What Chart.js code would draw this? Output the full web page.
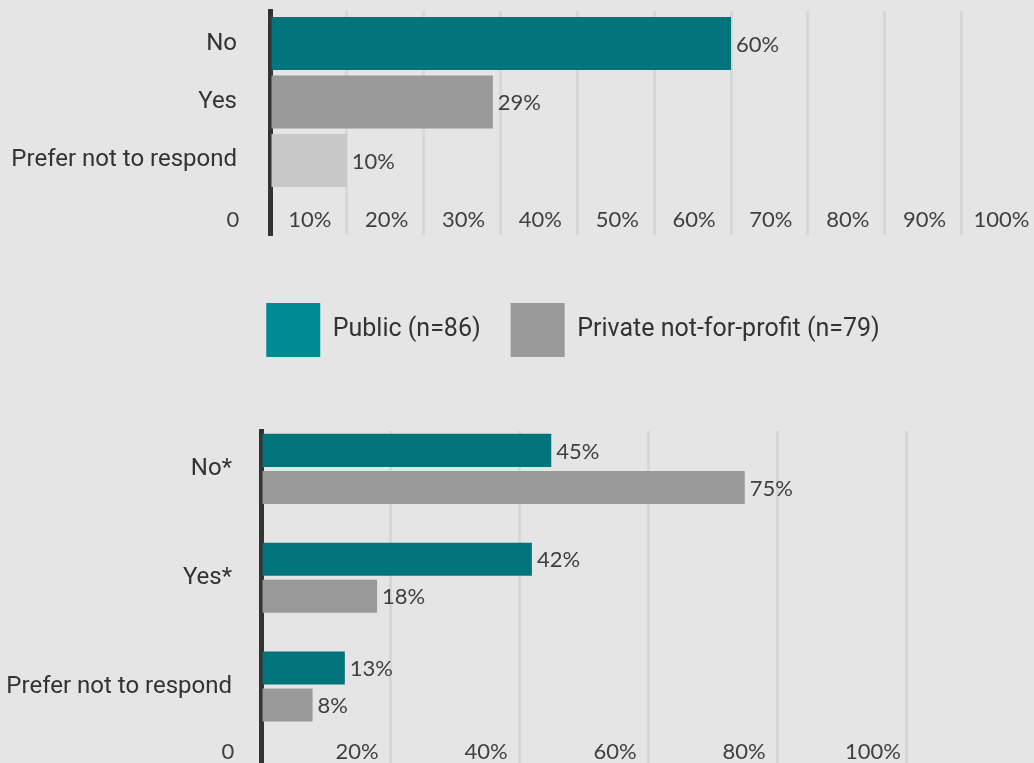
<!DOCTYPE html>
<html>
<head>
<meta charset="utf-8">
<title>Survey responses</title>
<script src="https://cdn.jsdelivr.net/npm/chart.js@4.4.0/dist/chart.umd.min.js"></script>
<style>
    html, body {
        margin: 0;
        padding: 0;
        width: 1034px;
        height: 763px;
        overflow: hidden;
        background: #e5e5e5;
    }
    canvas {
        position: absolute;
        left: 0;
    }
    #topChart { top: 0; }
    #bottomChart { top: 380px; }
</style>
</head>
<body>
<canvas id="topChart" width="1146" height="367"></canvas>
<canvas id="bottomChart" width="1040" height="383"></canvas>
<script>
// ===================================
// Data
// ===================================
const topCategories = ['No', 'Yes', 'Prefer not to respond'];
const topValues = [60, 29, 10];

const bottomCategories = ['No*', 'Yes*', 'Prefer not to respond'];
const publicValues = [45, 42, 13];
const privateValues = [75, 18, 8];

const groupNames = ['Public (n=86)', 'Private not-for-profit (n=79)'];

// ===================================
// Styles
// ===================================
const TEAL = '#02747b';
const GREY = '#999999';
const LIGHT_GREY = '#c8c8c8';
const LEGEND_COLORS = ['#008b93', '#999999'];
const GRID = '#d7d7d7';
const AXIS = '#333333';
const TEXT = '#404040';

Chart.defaults.font.family = 'Roboto';
Chart.defaults.color = TEXT;

// Draw "xx%" next to the end of every bar
const valueLabels = {
    id: 'valueLabels',
    afterDatasetsDraw(chart) {
        const ctx = chart.ctx;
        ctx.save();
        ctx.font = '22px Lato';
        ctx.fillStyle = TEXT;
        ctx.textBaseline = 'middle';
        ctx.textAlign = 'left';
        chart.data.datasets.forEach((ds, i) => {
            chart.getDatasetMeta(i).data.forEach((bar, j) => {
                ctx.fillText(ds.data[j] + '%', bar.x + 5, bar.y + 1);
            });
        });
        ctx.restore();
    }
};

// y axis with fixed width, one tick per category
function categoryAxis(categories, width, min, max, pad) {
    return {
        type: 'linear',
        reverse: true,
        offset: false,
        bounds: 'data',
        min: min,
        max: max,
        z: 1,
        grid: { display: false, drawTicks: false },
        border: { display: true, color: AXIS, width: 5 },
        ticks: {
            padding: pad,
            autoSkip: false,
            color: '#333333',
            font: { family: 'Roboto', size: 24 },
            callback: v => categories[v] || ''
        },
        afterBuildTicks: s => {
            s.ticks = categories.map((c, i) => ({ value: i }));
        },
        afterFit: s => {
            s.width = width;
            s.paddingTop = 0;
            s.paddingBottom = 0;
        }
    };
}

// x axis: labels sit between gridlines, inside the plot area
function percentAxis(max, step, offset, pad, height) {
    return {
        type: 'linear',
        bounds: 'data',
        min: 0,
        max: max,
        grid: { color: GRID, lineWidth: 3, drawTicks: false },
        border: { display: false },
        ticks: {
            stepSize: step,
            includeBounds: false,
            mirror: true,
            labelOffset: offset,
            padding: pad,
            color: TEXT,
            font: { family: 'Lato', size: 22 },
            callback: v => v === 0 ? '0' : (v > 100 ? '' : v + '%')
        },
        afterFit: s => {
            s.height = height;
            s.paddingLeft = 0;
            s.paddingRight = 0;
        }
    };
}

// ===================================
// Top chart (overall) + legend
// ===================================
new Chart(document.getElementById('topChart'), {
    type: 'bar',
    data: {
        labels: topCategories.map((c, i) => i),
        datasets: [{
            label: 'All',
            data: topValues,
            backgroundColor: [TEAL, GREY, LIGHT_GREY],
            categoryPercentage: 1,
            barPercentage: 0.906
        }]
    },
    options: {
        indexAxis: 'y',
        responsive: false,
        animation: false,
        layout: { padding: { top: 11, left: 0, right: 0, bottom: 0 } },
        scales: {
            x: percentAxis(114, 10, -37, 2, 38),
            y: categoryAxis(topCategories, 270, -0.556, 3.274, 33)
        },
        plugins: {
            tooltip: { enabled: false },
            legend: {
                position: 'bottom',
                labels: {
                    boxWidth: 54,
                    boxHeight: 54,
                    padding: 30,
                    color: '#333333',
                    font: { family: 'Roboto', size: 25 },
                    generateLabels: () => groupNames.map((name, i) => ({
                        text: name,
                        fillStyle: LEGEND_COLORS[i],
                        strokeStyle: LEGEND_COLORS[i],
                        lineWidth: 0,
                        hidden: false,
                        fontColor: '#333333',
                        datasetIndex: 0
                    }))
                }
            }
        }
    },
    plugins: [valueLabels]
});

// ===================================
// Bottom chart (public vs private)
// ===================================
new Chart(document.getElementById('bottomChart'), {
    type: 'bar',
    data: {
        labels: bottomCategories.map((c, i) => i),
        datasets: [{
            label: groupNames[0],
            data: publicValues,
            backgroundColor: TEAL,
            categoryPercentage: 0.682,
            barPercentage: 0.892
        }, {
            label: groupNames[1],
            data: privateValues,
            backgroundColor: GREY,
            categoryPercentage: 0.682,
            barPercentage: 0.892
        }]
    },
    options: {
        indexAxis: 'y',
        responsive: false,
        animation: false,
        layout: { padding: { top: 51, left: 0, right: 5, bottom: 0 } },
        scales: {
            x: percentAxis(120, 20, -33, -2, 0),
            y: categoryAxis(bottomCategories, 261, -0.349, 2.703, 29)
        },
        plugins: {
            tooltip: { enabled: false },
            legend: { display: false }
        }
    },
    plugins: [valueLabels]
});
</script>
</body>
</html>
